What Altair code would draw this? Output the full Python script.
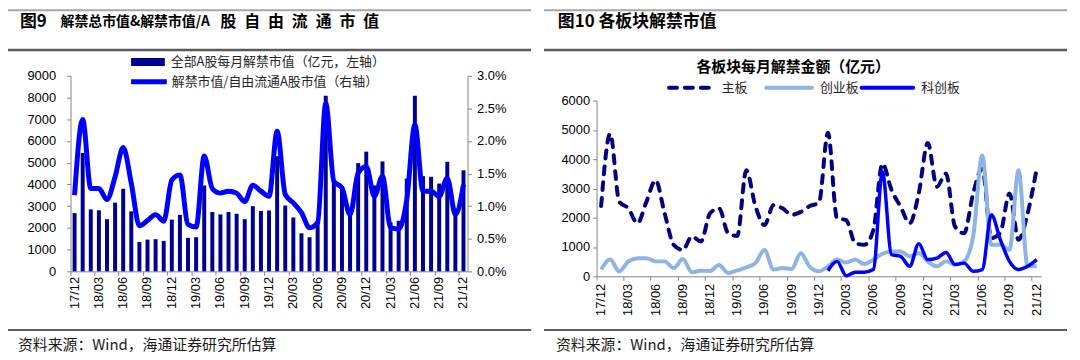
import altair as alt
import pandas as pd

# ---------------- data ----------------
months = ["17/12",
          "18/01", "18/02", "18/03", "18/04", "18/05", "18/06", "18/07", "18/08", "18/09", "18/10", "18/11", "18/12",
          "19/01", "19/02", "19/03", "19/04", "19/05", "19/06", "19/07", "19/08", "19/09", "19/10", "19/11", "19/12",
          "20/01", "20/02", "20/03", "20/04", "20/05", "20/06", "20/07", "20/08", "20/09", "20/10", "20/11", "20/12",
          "21/01", "21/02", "21/03", "21/04", "21/05", "21/06", "21/07", "21/08", "21/09", "21/10", "21/11", "21/12"]
tick_months = months[::3]

# 全部A股每月解禁市值（亿元，左轴）
total_unlock = [2680, 5450, 2850, 2810, 2400, 3160, 3800, 2760, 1350, 1460, 1480, 1400, 2380,
                2600, 1540, 1570, 3950, 2730, 2620, 2730, 2650, 2400, 3000, 2780, 2800,
                5300, 3030, 2480, 1750, 1570, 2220, 8080, 4150, 3920, 2750, 4980, 5510,
                3950, 5060, 2250, 2330, 4270, 8080, 4380, 4350, 4040, 5040, 2900, 4650]
# 解禁市值/自由流通A股市值（右轴, %）
ratio_pct = [1.17, 2.33, 1.27, 1.27, 1.10, 1.45, 1.90, 1.35, 0.70, 0.78, 0.87, 0.77, 1.40,
             1.48, 0.72, 0.68, 1.77, 1.27, 1.20, 1.23, 1.20, 1.07, 1.32, 1.23, 1.15,
             2.15, 1.18, 1.05, 0.90, 0.67, 0.75, 2.58, 1.38, 1.28, 0.87, 1.51, 1.61,
             1.15, 1.46, 0.67, 0.65, 1.10, 2.25, 1.23, 1.23, 1.15, 1.43, 0.87, 1.33]

# 各板块每月解禁金额（亿元）
main_board = [2400, 4870, 2550, 2320, 1810, 2550, 3280, 2150, 1075, 900, 1360, 1190, 2150,
              2320, 1470, 1380, 3620, 2400, 1750, 2430, 2320, 2100, 2200, 2400, 2510,
              4900, 1980, 1920, 1130, 1075, 1580, 3850, 2950, 2380, 1810, 2830, 4550,
              3060, 3510, 1700, 1470, 2830, 3680, 1300, 1500, 2830, 1245, 2150, 3680]
chinext = [230, 570, 170, 510, 620, 620, 510, 510, 280, 590, 140, 190, 180,
           385, 110, 200, 305, 450, 900, 230, 280, 250, 790, 320, 170,
           340, 570, 475, 570, 420, 570, 770, 850, 850, 680, 790, 510,
           340, 510, 400, 510, 1360, 4130, 1075, 1075, 900, 3620, 340, 340]
star_months = months[25:]
star_market = [190, 510, 20, 140, 140, 230, 3570, 740, 680, 340, 1110, 570,
               620, 815, 400, 450, 170, 230, 2100, 1245, 510, 230, 340, 570]

title_left_a = "图9"
title_left_b = "解禁总市值&解禁市值/A"
title_left_c = list("股自由流通市值")
title_right = "图10 各板块解禁市值"
sub_title_right = "各板块每月解禁金额（亿元）"
legend_left = ["全部A股每月解禁市值（亿元，左轴）", "解禁市值/自由流通A股市值（右轴）"]
legend_right = ["主板", "创业板", "科创板"]
source_text = "资料来源：Wind，海通证券研究所估算"

left_y_ticks = [0, 1000, 2000, 3000, 4000, 5000, 6000, 7000, 8000, 9000]
right_pct_ticks = [0, 0.005, 0.01, 0.015, 0.02, 0.025, 0.03]
rchart_y_ticks = [0, 1000, 2000, 3000, 4000, 5000, 6000]

# ---------------- layout constants ----------------
W, H = 1072, 350
L_X0, L_X1, L_Y0, L_Y1 = 63, 463, 264, 67
R_X0, R_X1, R_Y0, R_Y1 = 593, 1041, 269, 92

CN = "Noto Sans CJK SC"
NUM = "Liberation Sans"
NAVY = "#000090"
BLUE = "#0000FF"
LIGHT = "#8DB4E2"
DASHNAVY = "#000080"

AX = dict(domainColor="#868686", tickColor="#868686", labelColor="#000000",
          labelFont=NUM, labelFontSize=13, grid=False, title=None,
          domainWidth=1, tickWidth=1)

one = pd.DataFrame({"k": [0]})

df_left = pd.DataFrame({"month": months, "total": total_unlock,
                        "ratio": [v / 100 for v in ratio_pct]})
df_right = pd.DataFrame({"month": months, "main": main_board, "gem": chinext})
df_star = pd.DataFrame({"month": star_months, "star": star_market})

left_x = alt.Scale(type="band", domain=months, range=[L_X0, L_X1], paddingInner=0, paddingOuter=0)
right_x = alt.Scale(type="band", domain=months, range=[R_X0, R_X1], paddingInner=0, paddingOuter=0)


def rule(x1, x2, y, color, width, dash=None, cap="butt"):
    kw = dict(color=color, strokeWidth=width, strokeCap=cap)
    if dash:
        kw["strokeDash"] = dash
    return alt.Chart(one).mark_rule(**kw).encode(
        x=alt.value(x1), x2=alt.value(x2), y=alt.value(y))


def text(s, x, y, size, bold=False, font=CN, align="left", color="#000000"):
    return alt.Chart(one).mark_text(
        text=s, align=align, baseline="middle", font=font, fontSize=size,
        fontWeight="bold" if bold else "normal", color=color).encode(
        x=alt.value(x), y=alt.value(y))


# ---------------- left panel ----------------
bars = alt.Chart(df_left).mark_bar(size=4, color=NAVY).encode(
    x=alt.X("month:O", scale=left_x,
            axis=alt.Axis(orient="bottom", offset=L_Y0 - H, values=tick_months, labelAngle=-90,
                          bandPosition=0, tickSize=4, labelPadding=1, **AX)),
    y=alt.Y("total:Q", scale=alt.Scale(domain=[0, 9000], range=[L_Y0, L_Y1], nice=False),
            axis=alt.Axis(orient="left", offset=-L_X0, values=left_y_ticks, format="d",
                          tickSize=4, labelPadding=11, **AX)),
)

ratio_line = alt.Chart(df_left).mark_line(color=BLUE, strokeWidth=5, interpolate="monotone").encode(
    x=alt.X("month:O", scale=left_x, axis=None),
    y=alt.Y("ratio:Q", scale=alt.Scale(domain=[0, 0.03], range=[L_Y0, L_Y1], nice=False),
            axis=alt.Axis(orient="right", offset=L_X1 - W, values=right_pct_ticks, format=".1%",
                          tickSize=4, labelPadding=5, **AX)),
)

left_deco = [
    rule(0, 527, 1, "#A6A6A6", 2),
    rule(0, 527, 41, "#595959", 2.5),
    text(title_left_a, 12, 13, 17, bold=True),
    text(title_left_b, 53, 13, 14, bold=True),
    rule(0, 527, 323, "#262626", 1.5),
    text(source_text, 10, 338, 15, color="#1a1a1a"),
    alt.Chart(one).mark_rect(color=NAVY).encode(
        x=alt.value(124), x2=alt.value(158), y=alt.value(49), y2=alt.value(57)),
    text(legend_left[0], 164, 53, 13, color="#262626"),
    rule(124, 160, 73, BLUE, 5),
    text(legend_left[1], 165, 73, 13, color="#262626"),
]
for k, ch in enumerate(title_left_c):
    left_deco.append(text(ch, 222 + 24 * k, 13, 16, bold=True, align="center"))

# ---------------- right panel ----------------
main_line = alt.Chart(df_right).mark_line(color=DASHNAVY, strokeWidth=4, strokeDash=[8, 8],
                                          strokeCap="round", interpolate="monotone").encode(
    x=alt.X("month:O", scale=right_x,
            axis=alt.Axis(orient="bottom", offset=R_Y0 - H, values=tick_months, labelAngle=-90,
                          bandPosition=0, tickSize=4, labelPadding=3, **AX)),
    y=alt.Y("main:Q", scale=alt.Scale(domain=[0, 6000], range=[R_Y0, R_Y1], nice=False),
            axis=alt.Axis(orient="left", offset=-R_X0, values=rchart_y_ticks, format="d",
                          tickSize=4, labelPadding=3, **AX)),
)
gem_line = alt.Chart(df_right).mark_line(color=LIGHT, strokeWidth=4, interpolate="monotone").encode(
    x=alt.X("month:O", scale=right_x, axis=None),
    y=alt.Y("gem:Q", scale=alt.Scale(domain=[0, 6000], range=[R_Y0, R_Y1], nice=False), axis=None),
)
star_line = alt.Chart(df_star).mark_line(color=BLUE, strokeWidth=3.5, interpolate="monotone").encode(
    x=alt.X("month:O", scale=right_x, axis=None),
    y=alt.Y("star:Q", scale=alt.Scale(domain=[0, 6000], range=[R_Y0, R_Y1], nice=False), axis=None),
)

right_deco = [
    rule(540, 1067, 1, "#A6A6A6", 2),
    rule(540, 1067, 41, "#595959", 2.5),
    text(title_right, 554, 13, 17, bold=True),
    text(sub_title_right, 791, 58, 15, bold=True, align="center"),
    rule(540, 1067, 323, "#262626", 1.5),
    text(source_text, 552, 338, 15, color="#1a1a1a"),
    rule(666, 709, 79, DASHNAVY, 4, dash=[8, 8], cap="round"),
    text(legend_right[0], 719, 79, 13, color="#262626"),
    rule(764, 810, 79, LIGHT, 4, cap="round"),
    text(legend_right[1], 818, 79, 13, color="#262626"),
    rule(860, 912, 79, BLUE, 4, cap="round"),
    text(legend_right[2], 920, 79, 13, color="#262626"),
]

chart = alt.layer(
    bars, ratio_line, main_line, gem_line, star_line, *left_deco, *right_deco
).resolve_scale(
    x="independent", y="independent"
).properties(
    width=W, height=H, padding=0, autosize=alt.AutoSizeParams(type="none")
).configure_view(stroke=None)

chart.save("out.html", embed_options={"renderer": "svg", "actions": False})
